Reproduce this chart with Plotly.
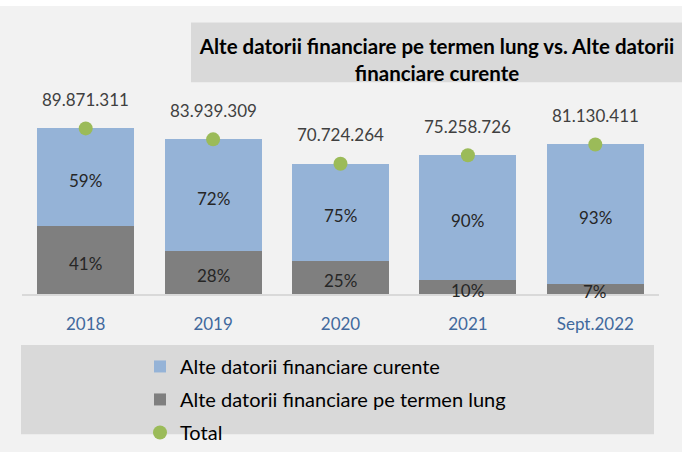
import plotly.graph_objects as go

W, H = 682, 452

categories = ["2018", "2019", "2020", "2021", "Sept.2022"]
totals = [89871311, 83939309, 70724264, 75258726, 81130411]
total_labels = ["89.871.311", "83.939.309", "70.724.264", "75.258.726", "81.130.411"]
# segment values (estimated from the shares shown on the bars)
long_term = [36847238, 23503007, 17681066, 7525873, 5679129]
current = [53024073, 60436302, 53043198, 67732853, 75451282]
long_pct = ["41%", "28%", "25%", "10%", "7%"]
current_pct = ["59%", "72%", "75%", "90%", "93%"]

FONT = "Lato"
BLUE = "#95b3d7"
DARK = "#7f7f7f"
GREEN = "#9bbb59"

def py(px):
    return 1 - px / H

def px_x(px):
    return px / W

fig = go.Figure()

fig.add_trace(go.Bar(
    x=categories, y=long_term, name="Alte datorii financiare pe termen lung",
    marker=dict(color=DARK, line=dict(width=0)),
    legendgroup="b", legendrank=2,
))
fig.add_trace(go.Bar(
    x=categories, y=current, name="Alte datorii financiare curente",
    marker=dict(color=BLUE, line=dict(width=0)),
    legendgroup="a", legendrank=1,
))
fig.add_trace(go.Scatter(
    x=categories, y=totals, name="Total", mode="markers",
    marker=dict(color=GREEN, size=14),
    legendgroup="c", legendrank=3, cliponaxis=False,
))

# percentage labels centred in each stacked segment (category index on the axis)
for i, (l, c, lp, cp) in enumerate(zip(long_term, current, long_pct, current_pct)):
    for yv, lab in ((l / 2, lp), (l + c / 2, cp)):
        fig.add_annotation(x=i, y=yv, xref="x", yref="y", text=lab, showarrow=False,
                           yshift=-3, yanchor="middle", xanchor="center",
                           font=dict(family=FONT, size=17, color="#262626"))

# value labels above the Total markers
for i, (t, lab) in enumerate(zip(totals, total_labels)):
    fig.add_annotation(x=i, y=t, xref="x", yref="y", text=lab, showarrow=False, yshift=29,
                       yanchor="middle", xanchor="center",
                       font=dict(family=FONT, size=17, color="#404040"))

shapes = [
    dict(type="rect", xref="paper", yref="paper", x0=0, x1=1, y0=py(6), y1=1,
         fillcolor="white", line=dict(width=0), layer="below"),
    dict(type="rect", xref="paper", yref="paper", x0=px_x(191), x1=1.01,
         y0=py(84), y1=py(23), fillcolor="#d9d9d9", line=dict(width=0), layer="below"),
    dict(type="rect", xref="paper", yref="paper", x0=px_x(21), x1=px_x(654),
         y0=py(443), y1=py(352), fillcolor="#d9d9d9", line=dict(width=0), layer="below"),
]

ppm = 169 / 89.871311e6
ytop = (300 - 90) / ppm

fig.update_layout(
    width=W, height=H,
    margin=dict(l=0, r=0, t=0, b=0),
    paper_bgcolor="#f2f2f2", plot_bgcolor="rgba(0,0,0,0)",
    barmode="stack", bargap=0.24,
    shapes=shapes,
    title=dict(text="<b>Alte datorii financiare pe termen lung vs. Alte datorii<br>financiare curente</b>",
               x=px_x(437), xanchor="center", y=py(54), yanchor="middle",
               font=dict(family=FONT, size=20.5, color="#000000")),
    xaxis=dict(type="category", categoryorder="array", categoryarray=categories,
               range=[-0.5, len(categories) - 0.5],
               domain=[px_x(22), px_x(659)], showline=True,
               linecolor="#d9d9d9", linewidth=2, layer="below traces",
               ticks="", showgrid=False, tickfont=dict(family=FONT, size=17, color="#41699d"),
               ticklabelstandoff=14),
    yaxis=dict(domain=[py(300), py(90)], range=[0, ytop], visible=False),
    legend=dict(x=px_x(140), xanchor="left", y=py(354), yanchor="top",
                bgcolor="rgba(0,0,0,0)", font=dict(family=FONT, size=20, color="#000000"),
                traceorder="grouped", tracegroupgap=4),
    font=dict(family=FONT),
)

fig.write_html("out.html", config={"staticPlot": True},
               post_script="document.body.style.margin='0';document.body.style.overflow='hidden';")
